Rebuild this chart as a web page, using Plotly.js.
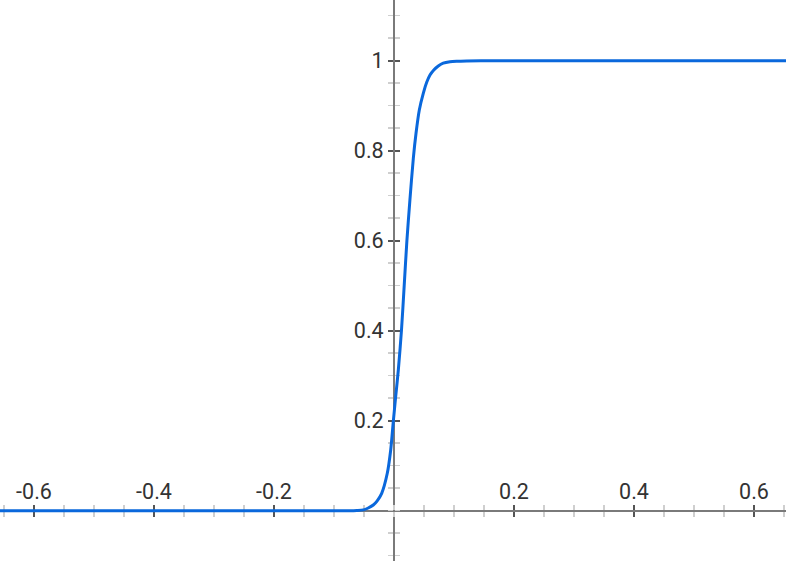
<!DOCTYPE html>
<html>
<head>
<meta charset="utf-8">
<script src="https://cdn.plot.ly/plotly-3.0.1.min.js"></script>
<style>
  html, body { margin: 0; padding: 0; background: #fff; }
  #chart { width: 786px; height: 561px; }
</style>
</head>
<body>
<div id="chart"></div>
<script>
// points
var xVals = [-0.66, -0.5, -0.3, -0.15, -0.1, -0.075, -0.062, -0.0512, -0.043, -0.0345, -0.028, -0.0205,
  -0.0112, -0.0055, -0.0012, 0.0028, 0.0072, 0.0125, 0.0170, 0.0215, 0.0265, 0.0322, 0.0367,
  0.0422, 0.0488, 0.0545, 0.06, 0.066, 0.0738, 0.082, 0.0933, 0.105, 0.1212, 0.16, 0.25, 0.4, 0.66];
var yVals = [0, 0, 0, 0, 0, 0, 0.0005, 0.0018, 0.006, 0.0127, 0.022, 0.0387,
  0.0831, 0.1349, 0.1978, 0.2533, 0.3127, 0.4016, 0.50, 0.60, 0.69, 0.783, 0.8387,
  0.8904, 0.9276, 0.952, 0.9682, 0.979, 0.9882, 0.9945, 0.9978, 0.999, 0.9996, 1, 1, 1, 1];

var xTicks = [-0.6, -0.4, -0.2, 0.2, 0.4, 0.6];
var xLabels = ['-0.6', '-0.4', '-0.2', '0.2', '0.4', '0.6'];
var yTicks = [0.2, 0.4, 0.6, 0.8, 1];
var yLabels = ['0.2', '0.4', '0.6', '0.8', '1'];

var xRange = [-394 / 600, 392 / 600];
var yRange = [-50.3 / 450, 510.7 / 450];
var xPos = (0 - yRange[0]) / (yRange[1] - yRange[0]);
var yPos = (0 - xRange[0]) / (xRange[1] - xRange[0]);

var lblFont = {family: 'Roboto, sans-serif', size: 21.5, color: '#333'};
var minorX = {dtick: 0.05, tick0: 0, ticks: 'outside', ticklen: 5, tickwidth: 1.5, tickcolor: '#cfcfcf'};
var minorY = {dtick: 0.05, tick0: 0, ticks: 'outside', ticklen: 5, tickwidth: 1.5, tickcolor: '#cfcfcf'};

function axisBase(range) {
  return {
    range: range, fixedrange: true, showgrid: false, zeroline: false,
    layer: 'below traces', anchor: 'free',
    tickmode: 'array', ticks: 'outside', ticklen: 5, tickwidth: 1.8, tickcolor: '#555'
  };
}

var xa = axisBase(xRange);
xa.position = xPos; xa.side = 'top';
xa.tickvals = xTicks; xa.ticktext = xLabels; xa.tickfont = lblFont;
xa.showline = true; xa.linecolor = '#7a7a7a'; xa.linewidth = 2;
xa.ticklabelstandoff = -3;
xa.minor = minorX;

var xa2 = axisBase(xRange);
xa2.position = xPos; xa2.side = 'bottom'; xa2.overlaying = 'x';
xa2.tickvals = xTicks; xa2.showticklabels = false; xa2.showline = false;
xa2.minor = minorX;

var ya = axisBase(yRange);
ya.position = yPos; ya.side = 'left';
ya.tickvals = yTicks; ya.ticktext = yLabels; ya.tickfont = lblFont;
ya.showline = true; ya.linecolor = '#7a7a7a'; ya.linewidth = 2;
ya.minor = minorY;

var ya2 = axisBase(yRange);
ya2.position = yPos; ya2.side = 'right'; ya2.overlaying = 'y';
ya2.tickvals = yTicks; ya2.showticklabels = false; ya2.showline = false;
ya2.minor = minorY;

var data = [
  {x: [], y: [], xaxis: 'x2', yaxis: 'y2', mode: 'lines', showlegend: false, hoverinfo: 'skip'},
  {
    x: xVals, y: yVals, mode: 'lines',
    line: {color: '#0a68dc', width: 3, shape: 'spline', smoothing: 0.8},
    showlegend: false, hoverinfo: 'skip'
  }
];

var layout = {
  width: 786, height: 561,
  margin: {l: 0, r: 0, t: 0, b: 0},
  paper_bgcolor: '#fff', plot_bgcolor: '#fff',
  xaxis: xa, xaxis2: xa2, yaxis: ya, yaxis2: ya2,
  showlegend: false
};

Plotly.newPlot('chart', data, layout, {displayModeBar: false, staticPlot: true});
</script>
</body>
</html>
